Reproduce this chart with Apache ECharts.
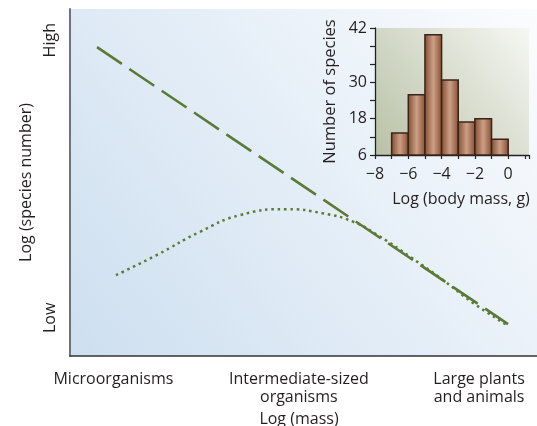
<!DOCTYPE html>
<html><head><meta charset="utf-8">
<script src="https://cdn.jsdelivr.net/npm/echarts@6/dist/echarts.min.js"></script>
<style>html,body{margin:0;padding:0;background:#fff}#c{width:537px;height:426px}</style>
</head><body><div id="c"></div>
<script>
// Main chart (schematic, arbitrary log units 0..10)
const massCategories = ['Microorganisms', 'Intermediate-sized\norganisms', 'Large plants\nand animals'];
const massCategoryPos = [0.93, 4.9, 8.76];
const speciesLabels = ['Low', 'High'];
const speciesLabelPos = [1.1, 9.1];
const dashedLine = [[0.578, 8.90], [9.38, 0.92]];
const dottedCurve = [
  [0.985, 2.33], [1.857, 2.91], [2.784, 3.58], [3.640, 4.06], [4.640, 4.23],
  [5.418, 4.11], [6.060, 3.87], [6.638, 3.44], [7.281, 2.86], [7.987, 2.19],
  [8.630, 1.53], [9.358, 0.89]
];
// Inset histogram
const binStarts = [-7, -6, -5, -4, -3, -2, -1];
const binWidth = 1;
const speciesCounts = [13.3, 25.9, 45.8, 30.8, 16.9, 18.0, 11.2];
const insetYTicks = [6, 12, 18, 24, 30, 36, 42, 48];
const insetYTickValues = [6, 18, 30, 48];
const insetYTickLabels = ['6', '18', '30', '42'];
const insetXTicks = [-8, -7, -6, -5, -4, -3, -2, -1, 0, 1, 1.25];
const insetXTickValues = [-8, -6, -4, -2, 0];
const insetXTickLabels = ['\u22128', '\u22126', '\u22124', '\u22122', '0'];

const FONT = 'Open Sans';
const TXT = '#231f20';
const GREEN = '#5b7a36';
const idxOf = (arr, v) => { let b = 0; arr.forEach((a, i) => { if (Math.abs(a - v) < Math.abs(arr[b] - v)) b = i; }); return b; };

const chart = echarts.init(document.getElementById('c'), null, {renderer: 'canvas'});
const barFill = new echarts.graphic.LinearGradient(0, 0, 1, 0, [
  {offset: 0, color: '#7e4a2d'}, {offset: 0.5, color: '#cc9f86'}, {offset: 1, color: '#834d31'}
]);
chart.setOption({
  animation: false,
  textStyle: {fontFamily: FONT, color: TXT},
  grid: [
    {left: 70, top: 9, width: 467, height: 347, show: true, borderWidth: 0,
     containLabel: false, outerBoundsMode: 'none',
     backgroundColor: new echarts.graphic.LinearGradient(0, 1, 1, 0, [
       {offset: 0, color: '#cddff0'}, {offset: 1, color: '#fbfcfe'}])},
    {left: 375, top: 28, width: 154, height: 127, show: true, borderWidth: 0,
     containLabel: false, outerBoundsMode: 'none',
     backgroundColor: new echarts.graphic.LinearGradient(0, 1, 1, 0, [
       {offset: 0, color: '#b8c1a6'}, {offset: 1, color: '#f6f7f3'}])}
  ],
  xAxis: [
    {type: 'value', gridIndex: 0, min: 0, max: 10, splitLine: {show: false},
     axisLine: {show: true, lineStyle: {color: '#333', width: 1.5}},
     axisTick: {show: false},
     axisLabel: {customValues: massCategoryPos, margin: 14, fontSize: 16, color: TXT, fontFamily: FONT,
       lineHeight: 18, formatter: v => massCategories[idxOf(massCategoryPos, v)]},
     name: 'Log (mass)', nameLocation: 'middle', nameGap: 42,
     nameTextStyle: {fontSize: 16, lineHeight: 17, color: TXT, fontFamily: FONT, padding: [0, 9, 0, 0]}},
    {type: 'value', gridIndex: 1, min: -8, max: 1.25, interval: 1, splitLine: {show: false},
     axisLine: {show: true, onZero: false, lineStyle: {color: '#222', width: 1.3}},
     axisTick: {show: true, customValues: insetXTicks, length: 4, lineStyle: {color: '#222', width: 1.2}},
     axisLabel: {customValues: insetXTickValues, margin: 11, fontSize: 16, color: TXT, fontFamily: FONT,
       formatter: v => insetXTickLabels[idxOf(insetXTickValues, v)]},
     name: 'Log (body mass, g)', nameLocation: 'middle', nameGap: 36,
     nameTextStyle: {fontSize: 16, color: TXT, fontFamily: FONT, padding: [0, 0, 0, 18]}}
  ],
  yAxis: [
    {type: 'value', gridIndex: 0, min: 0, max: 10, splitLine: {show: false},
     axisLine: {show: true, lineStyle: {color: '#6d737c', width: 2}},
     axisTick: {show: false},
     axisLabel: {customValues: speciesLabelPos, rotate: 90, margin: 12, fontSize: 16, color: TXT, fontFamily: FONT,
       formatter: v => speciesLabels[idxOf(speciesLabelPos, v)]},
     name: 'Log (species number)', nameLocation: 'middle', nameRotate: 90, nameGap: 31,
     nameTextStyle: {fontSize: 16, color: TXT, fontFamily: FONT}},
    {type: 'value', gridIndex: 1, min: 6, max: 48, interval: 6, splitLine: {show: false},
     axisLine: {show: true, onZero: false, lineStyle: {color: '#222', width: 1.3}},
     axisTick: {show: true, customValues: insetYTicks, length: 5, lineStyle: {color: '#222', width: 1.2}},
     axisLabel: {customValues: insetYTickValues, margin: 8, fontSize: 16, color: TXT, fontFamily: FONT,
       formatter: v => insetYTickLabels[idxOf(insetYTickValues, v)]},
     name: 'Number of species', nameLocation: 'middle', nameRotate: 90, nameGap: 36,
     nameTextStyle: {fontSize: 16.5, color: TXT, fontFamily: FONT}}
  ],
  series: [
    {type: 'line', xAxisIndex: 0, yAxisIndex: 0, data: dashedLine, symbol: 'none', z: 3,
     lineStyle: {color: GREEN, width: 2.6, type: [30, 9], cap: 'butt'}},
    {type: 'line', xAxisIndex: 0, yAxisIndex: 0, data: dottedCurve, symbol: 'none', smooth: true, z: 3,
     lineStyle: {color: GREEN, width: 2.5, type: [2.5, 3.8], cap: 'butt'}},
    {type: 'custom', xAxisIndex: 1, yAxisIndex: 1, z: 5,
     data: binStarts.map((s, i) => [s, s + binWidth, speciesCounts[i]]),
     renderItem: (params, api) => {
       const p0 = api.coord([api.value(0), api.value(2)]);
       const p1 = api.coord([api.value(1), 6]);
       return {type: 'rect', shape: {x: p0[0], y: p0[1], width: p1[0] - p0[0], height: p1[1] - p0[1]},
         style: {fill: barFill, stroke: '#3a2418', lineWidth: 1.5}};
     }}
  ]
});
</script></body></html>
